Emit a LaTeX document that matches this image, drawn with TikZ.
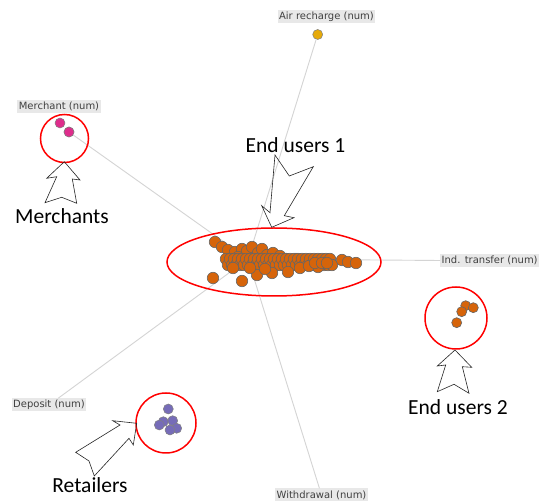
\documentclass[tikz,border=0pt]{standalone}
\usepackage{fontspec}
\setmainfont{Carlito}
\newfontfamily\labfont{DejaVu Sans}
\usetikzlibrary{shapes.geometric}
\definecolor{orangec}{RGB}{214,100,10}
\definecolor{pinkc}{RGB}{222,45,140}
\definecolor{purplec}{RGB}{118,108,184}
\definecolor{yellowc}{RGB}{230,170,10}
\definecolor{axisc}{RGB}{212,212,212}
\definecolor{labbg}{RGB}{232,232,232}
\begin{document}
\begin{tikzpicture}[x=1pt,y=-1pt,
  axisline/.style={draw=axisc, line width=0.9pt},
  lab/.style={fill=labbg, inner xsep=1.5pt, inner ysep=0pt, minimum height=13pt,
    font=\labfont\fontsize{10}{12}\selectfont, text=black!75},
  odot/.style={circle, fill=orangec, draw=black!60, line width=0.6pt, inner sep=0pt, minimum size=11.5pt},
  sdot/.style={circle, draw=black!50, line width=0.5pt, inner sep=0pt, minimum size=10pt},
  ring/.style={circle, draw=red, line width=1.5pt, inner sep=0pt},
  callout/.style={draw=black!85, line width=0.6pt, line join=miter},
  big/.style={font=\fontsize{21.5}{24}\selectfont, inner sep=0pt}]
\useasboundingbox (0,0) rectangle (539,502);
\fill[white] (0,0) rectangle (539,502);

% axis labels
\node[lab] (airlab) at (326.5,16.5) {Air recharge (num)};
\node[lab] (merlab) at (59,106.5) {Merchant (num)};
\node[lab, anchor=west] (indlab) at (440,260.5) {Ind. transfer (num)};
\node[lab] (deplab) at (49,405) {Deposit (num)};
\node[lab] (wdlab) at (321.5,495) {Withdrawal (num)};

% anchor dots
\coordinate (hub) at (248,259);
\node[sdot, fill=yellowc] (airdot) at (317.7,34.5) {};
\node[sdot, fill=pinkc] (m1) at (60,123) {};
\node[sdot, fill=pinkc] (m2) at (69,132) {};

% axes
\draw[axisline] (hub) -- (airdot);
\draw[axisline] (hub) -- (m2);
\draw[axisline] (hub) -- (indlab.west);
\draw[axisline] (hub) -- (deplab);
\draw[axisline] (hub) -- (wdlab);
\node[sdot, fill=pinkc] (m2b) at (69,132) {};

% central cluster
\foreach \x/\y [count=\i] in {215/242,222/247,228/250,235/252,242/249,247/251,252/247,258/253,262/249,267/255,273/253,280/256,286/259,296/259,238/257}
  \node[odot] (u\i) at (\x,\y) {};
\foreach \x [count=\i] in {226,230,...,330}
  {\node[odot] (ba\i) at (\x,259) {};
   \node[odot] (bb\i) at (\x+2,265) {};}
\foreach \x/\y [count=\i] in {213/278,242/281,257/275,272/273,288/272,233/268,250/268,265/269,300/268,318/267,309/266,315/263,322/263,327/263,342/260,348/262,356/263}
  \node[odot] (l\i) at (\x,\y) {};

% end users 2 dots
\foreach \x/\y [count=\i] in {465.7/305.7,473.3/307.7,461.7/311.7,456.7/322.7}
  \node[odot, minimum size=10pt] (e\i) at (\x,\y) {};

% retailer dots
\foreach \x/\y [count=\i] in {168.3/409,163.3/421.7,172.7/420.7,159.3/425,176.7/428.3,170/430}
  \node[sdot, fill=purplec] (r\i) at (\x,\y) {};

% highlight rings
\node[ellipse, draw=red, line width=1.5pt, minimum width=214pt, minimum height=68pt, inner sep=0pt] (ringc) at (274,262) {};
\node[ring, minimum size=48pt] (ringm) at (64.5,138.5) {};
\node[ring, minimum size=62pt] (ringe) at (456,318) {};
\node[ring, minimum size=60pt] (ringr) at (166,423) {};

% callout arrows
\draw[callout] (271.7,227.3) -- (261.7,205.7) -- (270,212.7) -- (275,155) -- (289.3,176)
  -- (313.3,166.7) -- (284.3,215.7) -- (294,217.7) -- cycle;
\draw[callout] (64.3,161.7) -- (80,180) -- (72.3,179) -- (76.7,203.3) -- (61.7,197.3)
  -- (45,202.7) -- (56.7,176.7) -- (46.7,178.3) -- cycle;
\draw[callout] (136.7,423.3) -- (112.7,420.7) -- (120,425) -- (75.7,452.3) -- (89,461)
  -- (94.3,476) -- (129,438.3) -- (133.3,445) -- cycle;
\draw[callout] (455,350) -- (471.7,367.3) -- (462.3,366.7) -- (469,393.3) -- (454,384.3)
  -- (437.3,391.7) -- (445.7,365) -- (437.3,366) -- cycle;

% group names
\node[big] (tmerch) at (62,216.5) {Merchants};
\node[big] (teu1) at (295.5,145.5) {End users 1};
\node[big] (teu2) at (458,407) {End users 2};
\node[big] (tret) at (90,485.5) {Retailers};
\end{tikzpicture}
\end{document}
